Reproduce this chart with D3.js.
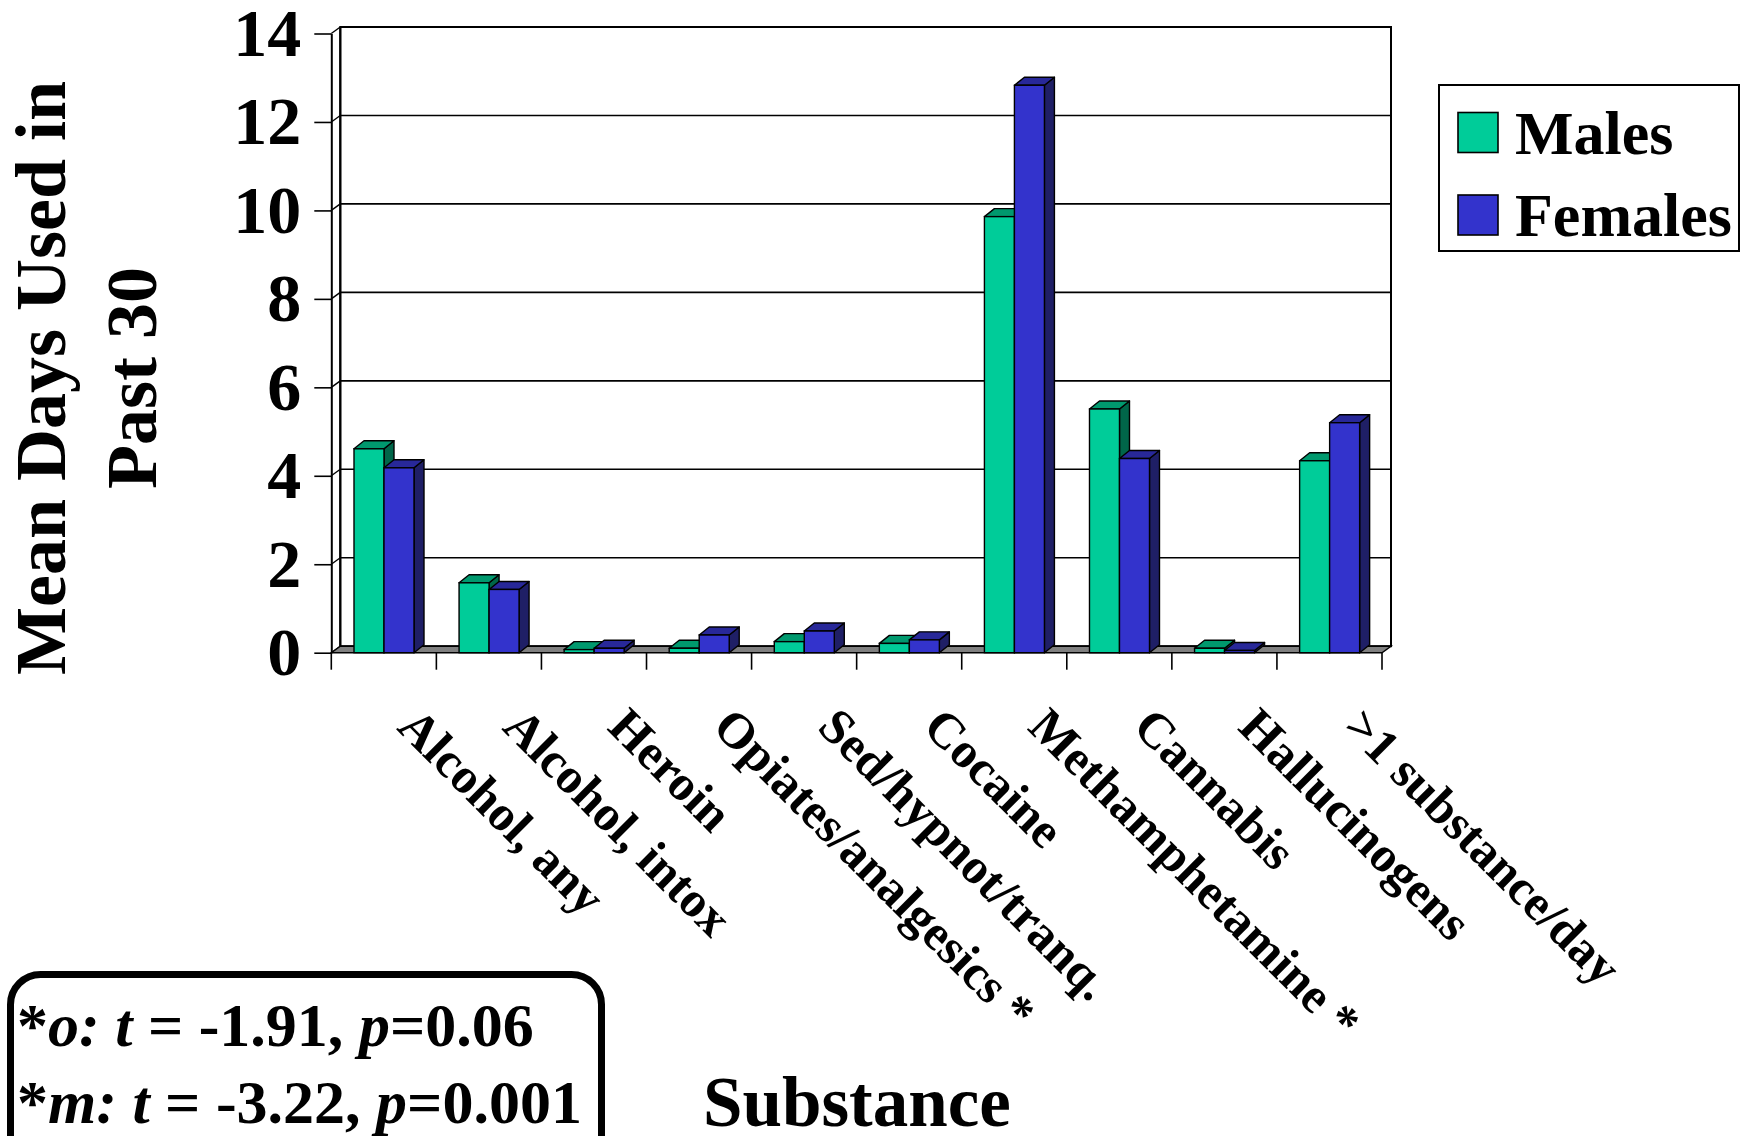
<!DOCTYPE html>
<html>
<head>
<meta charset="utf-8">
<script src="https://cdn.jsdelivr.net/npm/d3@7"></script>
<style>
  html, body { margin: 0; padding: 0; background: #ffffff; }
  svg { display: block; }
  text { font-family: "Liberation Serif", "Times New Roman", Times, serif; font-weight: bold; fill: #000; }
</style>
</head>
<body>
<script>
// ---------- data ----------
const categories = ["Alcohol, any", "Alcohol, intox", "Heroin", "Opiates/analgesics *",
  "Sed/hypnot/tranq.", "Cocaine", "Methamphetamine *", "Cannabis", "Hallucinogens", ">1 substance/day"];
const seriesNames = ["Males", "Females"];
const males   = [4.61, 1.58, 0.07, 0.10, 0.25, 0.21, 9.86, 5.51, 0.10, 4.34];
const females = [4.18, 1.43, 0.10, 0.40, 0.49, 0.29, 12.83, 4.39, 0.05, 5.20];
const yTicks = [0, 2, 4, 6, 8, 10, 12, 14];
const yTitleLines = ["Mean Days Used in", "Past 30"];
const xTitle = "Substance";
const statLines = [
  [["*", "normal", "bold"], ["o:", "italic", "bold"], [" ", "normal", "bold"], ["t", "italic", "bold"], [" = -1.91, ", "normal", "bold"], ["p", "italic", "bold"], ["=0.06", "normal", "bold"]],
  [["*", "normal", "bold"], ["m:", "italic", "bold"], [" ", "normal", "bold"], ["t", "italic", "bold"], [" = -3.22, ", "normal", "bold"], ["p", "italic", "bold"], ["=0.001", "normal", "bold"]]
];

// ---------- styles ----------
const colors = {
  Males:   { front: "#00CC99", top: "#00996E", side: "#006649" },
  Females: { front: "#3333CC", top: "#282899", side: "#1F1F66" }
};
const W = 1746, H = 1136;
const plot = { left: 331.3, right: 1382.0, bottom: 652.7, top: 33.5 };
const wall = { dx: 9, dy: 6.5 };
const bar = { dx: 10, dy: 8 };

const svg = d3.select("body").append("svg").attr("width", W).attr("height", H);
svg.append("rect").attr("width", W).attr("height", H).attr("fill", "#fff");

const x0 = d3.scaleBand().domain(categories).range([plot.left, plot.right]).padding(0);
const x1 = d3.scaleBand().domain(seriesNames).range([22.7, 82.7]).padding(0);
const y = d3.scaleLinear().domain([0, 14]).range([plot.bottom, plot.top]);

const g = svg.append("g");

// back wall
g.append("rect")
  .attr("x", plot.left + wall.dx).attr("y", y(14) - wall.dy)
  .attr("width", plot.right - plot.left).attr("height", y(0) - y(14))
  .attr("fill", "#fff").attr("stroke", "#000").attr("stroke-width", 2);

// gridlines on back wall + left wall diagonals
g.selectAll("line.grid").data(yTicks.filter(v => v > 0 && v < 14)).join("line")
  .attr("class", "grid")
  .attr("x1", plot.left + wall.dx).attr("x2", plot.right + wall.dx)
  .attr("y1", d => y(d) - wall.dy).attr("y2", d => y(d) - wall.dy)
  .attr("stroke", "#000").attr("stroke-width", 1.6);
g.selectAll("line.diag").data(yTicks).join("line")
  .attr("class", "diag")
  .attr("x1", plot.left).attr("x2", plot.left + wall.dx)
  .attr("y1", d => y(d)).attr("y2", d => y(d) - wall.dy)
  .attr("stroke", "#000").attr("stroke-width", 1.4);
// left wall back edge
g.append("line")
  .attr("x1", plot.left + wall.dx).attr("x2", plot.left + wall.dx)
  .attr("y1", y(14) - wall.dy).attr("y2", y(0) - wall.dy)
  .attr("stroke", "#000").attr("stroke-width", 2);

// floor
g.append("path")
  .attr("d", `M${plot.left},${y(0)} L${plot.right},${y(0)} L${plot.right + wall.dx},${y(0) - wall.dy} L${plot.left + wall.dx},${y(0) - wall.dy} Z`)
  .attr("fill", "#808080").attr("stroke", "#000").attr("stroke-width", 1.4);

// y axis
const yAxis = g.append("g")
  .attr("transform", `translate(${plot.left},0)`)
  .call(d3.axisLeft(y).tickValues(yTicks).tickSize(17).tickSizeOuter(0).tickPadding(13).tickFormat(d3.format("d")));
yAxis.select(".domain").attr("stroke", "#000").attr("stroke-width", 2);
yAxis.selectAll(".tick line").attr("stroke", "#000").attr("stroke-width", 1.6);
yAxis.selectAll(".tick text")
  .attr("font-size", 68).attr("font-weight", "bold")
  .attr("font-family", '"Liberation Serif", "Times New Roman", serif').attr("fill", "#000");

// x axis ticks at category boundaries
const boundaries = categories.map(c => x0(c)).concat([x0(categories[categories.length - 1]) + x0.bandwidth()]);
g.selectAll("line.xtick").data(boundaries).join("line")
  .attr("class", "xtick")
  .attr("x1", d => d).attr("x2", d => d)
  .attr("y1", y(0)).attr("y2", y(0) + 17)
  .attr("stroke", "#000").attr("stroke-width", 1.6);

// bars
const rows = categories.map((c, i) => ({ cat: c, vals: [
  { s: "Males", v: males[i] }, { s: "Females", v: females[i] } ] }));
const groups = g.selectAll("g.cat").data(rows).join("g")
  .attr("class", "cat").attr("transform", d => `translate(${x0(d.cat)},0)`);
groups.each(function(d) {
  const gg = d3.select(this);
  d.vals.forEach(b => {
    const xa = x1(b.s), xb = xa + x1.bandwidth();
    const yt = y(b.v), yb = y(0);
    const c = colors[b.s];
    gg.append("path")
      .attr("d", `M${xb},${yt} L${xb + bar.dx},${yt - bar.dy} L${xb + bar.dx},${yb - bar.dy} L${xb},${yb} Z`)
      .attr("fill", c.side).attr("stroke", "#000").attr("stroke-width", 1.4).attr("stroke-linejoin", "round");
    gg.append("path")
      .attr("d", `M${xa},${yt} L${xa + bar.dx},${yt - bar.dy} L${xb + bar.dx},${yt - bar.dy} L${xb},${yt} Z`)
      .attr("fill", c.top).attr("stroke", "#000").attr("stroke-width", 1.4).attr("stroke-linejoin", "round");
    gg.append("rect")
      .attr("x", xa).attr("y", yt).attr("width", x1.bandwidth()).attr("height", yb - yt)
      .attr("fill", c.front).attr("stroke", "#000").attr("stroke-width", 1.4);
  });
});

// category labels
g.selectAll("text.cat").data(categories).join("text")
  .attr("class", "cat")
  .attr("transform", d => `translate(${x0(d) + x0.bandwidth() / 2 + 12},729) rotate(45)`)
  .attr("font-size", 50)
  .attr("text-anchor", "start")
  .text(d => d);

// y title
const yt = svg.append("text")
  .attr("transform", `translate(0,378) rotate(-90)`)
  .attr("text-anchor", "middle").attr("font-size", 72);
yt.selectAll("tspan").data(yTitleLines).join("tspan")
  .attr("x", 0).attr("y", (d, i) => i === 0 ? 65 : 156)
  .text(d => d);

// x title
svg.append("text").attr("x", 703).attr("y", 1126).attr("font-size", 71).text(xTitle);

// legend
const lg = svg.append("g");
lg.append("rect").attr("x", 1439).attr("y", 85).attr("width", 300).attr("height", 166)
  .attr("fill", "#fff").attr("stroke", "#000").attr("stroke-width", 2);
const items = lg.selectAll("g.item").data(seriesNames).join("g").attr("class", "item")
  .attr("transform", (d, i) => `translate(1458,${112.5 + i * 82.5})`);
items.append("rect").attr("width", 40).attr("height", 40)
  .attr("fill", d => colors[d].front).attr("stroke", "#000").attr("stroke-width", 1.6);
items.append("text").attr("x", 57).attr("y", 41).attr("font-size", 62).text(d => d);

// stats box
svg.append("rect").attr("x", 10.5).attr("y", 974.5).attr("width", 591).attr("height", 220)
  .attr("rx", 30).attr("fill", "none").attr("stroke", "#000").attr("stroke-width", 7);
const st = svg.append("g");
statLines.forEach((parts, i) => {
  const t = st.append("text").attr("x", 17).attr("y", i === 0 ? 1046 : 1123).attr("font-size", 62)
    .attr("xml:space", "preserve").style("white-space", "pre");
  t.selectAll("tspan").data(parts).join("tspan")
    .attr("font-style", d => d[1]).attr("font-weight", d => d[2])
    .text(d => d[0]);
});
</script>
</body>
</html>
